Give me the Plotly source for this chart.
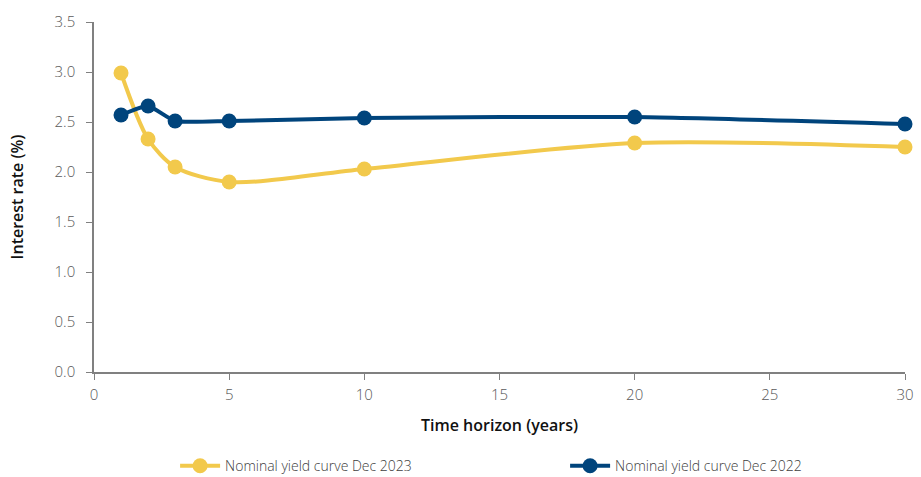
import plotly.graph_objects as go

years = [1, 2, 3, 5, 10, 20, 30]
yield_2023 = [2.99, 2.33, 2.05, 1.90, 2.03, 2.29, 2.25]
yield_2022 = [2.57, 2.66, 2.51, 2.51, 2.54, 2.55, 2.48]
x_ticks = [0, 5, 10, 15, 20, 25, 30]
y_ticks = [0.0, 0.5, 1.0, 1.5, 2.0, 2.5, 3.0, 3.5]

fig = go.Figure()
fig.add_trace(go.Scatter(
    x=years, y=yield_2023, name="Nominal yield curve Dec 2023",
    mode="lines+markers", line=dict(color="#F2C94C", width=4, shape="spline", smoothing=0.8),
    marker=dict(size=15, color="#F2C94C"), cliponaxis=False))
fig.add_trace(go.Scatter(
    x=years, y=yield_2022, name="Nominal yield curve Dec 2022",
    mode="lines+markers", line=dict(color="#00447C", width=4, shape="spline", smoothing=0.5),
    marker=dict(size=15, color="#00447C"), cliponaxis=False))

title_font = dict(family="Open Sans", color="#111111", size=16, weight=600)

fig.update_layout(
    width=921, height=477,
    margin=dict(l=94, r=16, t=22, b=105, autoexpand=False),
    plot_bgcolor="white", paper_bgcolor="white",
    font=dict(family="Open Sans", color="#595959", size=15, weight=300),
    xaxis=dict(range=[0, 30], tickvals=x_ticks, showgrid=False, zeroline=False,
               showline=True, linecolor="#808080", linewidth=1.5, automargin=False,
               ticks="outside", ticklen=6, tickcolor="#808080", ticklabelstandoff=2,
               title=dict(text="Time horizon (years)", font=title_font, standoff=17)),
    yaxis=dict(range=[0, 3.5], tickvals=y_ticks, tickformat=".1f", showgrid=False, zeroline=False,
               showline=True, linecolor="#808080", linewidth=1.5, automargin=False,
               ticks="outside", ticklen=6, tickcolor="#808080", ticklabelstandoff=8,
               title=dict(text="Interest rate (%)", font=title_font, standoff=27)),
    legend=dict(orientation="h", x=0.1, xanchor="left", y=-0.269, yanchor="middle",
                entrywidth=335, entrywidthmode="pixels", itemwidth=40,
                font=dict(color="#404040", size=14, family="Open Sans", weight=300)),
    showlegend=True,
)
fig.write_html("out.html", config={"displayModeBar": False},
               post_script="document.body.style.margin='0';")
